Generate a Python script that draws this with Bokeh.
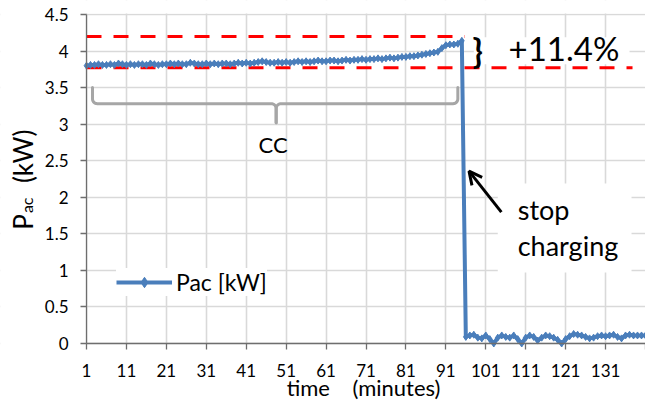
import numpy as np
from bokeh.plotting import figure
from bokeh.models import Label, Arrow, OpenHead, FixedTicker, Range1d, BoxAnnotation
from bokeh.embed import file_html
from bokeh.resources import INLINE

# ---------------- data ----------------
minutes = list(range(1, 142))

pac_charging = [
    3.80, 3.81, 3.81, 3.82, 3.81, 3.81, 3.82, 3.81, 3.83, 3.82,
    3.81, 3.82, 3.81, 3.82, 3.82, 3.81, 3.83, 3.82, 3.81, 3.82,
    3.82, 3.83, 3.82, 3.83, 3.82, 3.82, 3.84, 3.83, 3.82, 3.82,
    3.83, 3.82, 3.83, 3.82, 3.83, 3.83, 3.82, 3.83, 3.84, 3.83,
    3.84, 3.83, 3.84, 3.85, 3.86, 3.85, 3.84, 3.84, 3.85, 3.84,
    3.85, 3.84, 3.85, 3.86, 3.85, 3.86, 3.85, 3.86, 3.87, 3.86,
    3.86, 3.87, 3.87, 3.86, 3.87, 3.88, 3.87, 3.88, 3.88, 3.89,
    3.88, 3.89, 3.89, 3.90, 3.89, 3.90, 3.91, 3.90, 3.91, 3.92,
    3.92, 3.93, 3.93, 3.94, 3.95, 3.96, 3.97, 3.98, 3.99, 4.04,
    4.08, 4.09, 4.09, 4.10, 4.14,
]
pac_after = [
    0.09, 0.11, 0.12, 0.08, 0.07, 0.11, 0.06, 0.00, 0.08, 0.11,
    0.09, 0.08, 0.11, 0.06, 0.00, 0.08, 0.11, 0.09, 0.04, 0.08,
    0.11, 0.10, 0.08, 0.05, 0.00, 0.06, 0.10, 0.13, 0.12, 0.11,
    0.09, 0.07, 0.08, 0.10, 0.11, 0.10, 0.11, 0.12, 0.09, 0.07,
    0.11, 0.12, 0.11, 0.11, 0.11, 0.11,
]
pac_kw = pac_charging + pac_after

cc_level = 3.77      # lower red reference line
peak_level = 4.20    # upper red reference line
increase_text = "+11.4%"

x_min, x_max = 1, 141
y_min, y_max = 0, 4.5
x_ticks = list(range(1, 142, 10))
x_tick_labels = [str(t) for t in x_ticks[:-1]] + [""]
y_ticks = [0, 0.5, 1, 1.5, 2, 2.5, 3, 3.5, 4, 4.5]
y_tick_labels = ["0", "0.5", "1", "1.5", "2", "2.5", "3", "3.5", "4", "4.5"]

FONT = "Lato"
BLUE = "#4a7ebb"

# ---------------- layout (pixels) ----------------
W, H = 645, 400
left_px, top_px, bottom_px = 86, 14, 343
ppx = (W - left_px) / (x_max - x_min)          # pixels per minute
ppy = (bottom_px - top_px) / (y_max - y_min)   # pixels per kW

p = figure(width=W, height=H,
           x_range=Range1d(x_min - left_px / ppx, x_max),
           y_range=Range1d(y_min - (H - bottom_px) / ppy, y_max + top_px / ppy),
           output_backend="svg", toolbar_location=None,
           min_border_left=0, min_border_right=0, min_border_top=0, min_border_bottom=0)
p.outline_line_color = None
p.background_fill_color = "white"

for g, t in ((p.xgrid, x_ticks), (p.ygrid, y_ticks)):
    g.ticker = FixedTicker(ticks=t)
    g.grid_line_color = "#d9d9d9"
    g.grid_line_width = 1.6

# white masks so that grid lines stay inside the data area
for kw in (dict(right=x_min - 0.15), dict(top=y_min - 0.01), dict(bottom=y_max + 0.012)):
    p.add_layout(BoxAnnotation(fill_color="white", fill_alpha=1, line_color=None,
                               level="underlay", **kw))

p.xaxis.ticker = FixedTicker(ticks=x_ticks)
p.xaxis.major_label_overrides = dict(zip(x_ticks, x_tick_labels))
p.yaxis.ticker = FixedTicker(ticks=y_ticks)
p.yaxis.major_label_overrides = dict(zip(y_ticks, y_tick_labels))
p.xaxis.fixed_location = y_min
p.yaxis.fixed_location = x_min
p.xaxis.bounds = (x_min, x_max)
p.yaxis.bounds = (y_min, y_max)
for ax in (p.xaxis, p.yaxis):
    ax.axis_line_color = "#6e6e6e"
    ax.axis_line_width = 1.3
    ax.major_tick_line_color = "#6e6e6e"
    ax.major_tick_line_width = 1.3
    ax.major_tick_out = 6
    ax.major_tick_in = 0
    ax.minor_tick_line_color = None
    ax.major_label_text_font = FONT
    ax.major_label_text_font_size = "17px"
    ax.major_label_text_color = "black"
p.xaxis.major_label_standoff = 14
p.yaxis.major_label_standoff = 12

# red dashed reference lines
p.line([1, 137.75], [cc_level, cc_level], line_color="red", line_width=3, line_dash="15 12")
p.line([1, 95.75], [peak_level, peak_level], line_color="red", line_width=3, line_dash="15 12")

# gray brace for CC region
xl, xr, xc = 2.5, 94.0, 48.5
ytop, ymid, ybot = 3.50, 3.28, 3.02
rx, ry = 1.2, 0.066
t = np.linspace(0, np.pi / 2, 8)
left_x = np.concatenate([[xl], xl + rx - rx * np.cos(t), xc - rx + rx * np.sin(t), [xc]])
left_y = np.concatenate([[ytop], ymid + ry - ry * np.sin(t), ymid - ry + ry * np.cos(t), [ybot]])
right_x = np.concatenate([[xr], xr - rx + rx * np.cos(t), xc + rx - rx * np.sin(t), [xc]])
p.multi_line([list(left_x), list(right_x)], [list(left_y), list(left_y)],
             line_color="#a6a6a6", line_width=3, line_join="round", line_cap="round")

# data series
p.line(minutes, pac_kw, line_color=BLUE, line_width=4, legend_label="Pac [kW]")
p.scatter(minutes, pac_kw, marker="diamond", size=7, fill_color=BLUE, line_color=BLUE,
          legend_label="Pac [kW]")

# legend
lg = p.legend[0]
lg.location = (116, 104)
lg.glyph_width = 56
lg.glyph_height = 26
lg.label_height = 26
lg.label_standoff = 4
lg.padding = 10
lg.margin = 0
lg.spacing = 0
lg.border_line_color = None
lg.background_fill_color = "white"
lg.background_fill_alpha = 1
lg.label_text_font = FONT
lg.label_text_font_size = "23px"
lg.label_text_color = "black"

# white boxes behind annotations
p.add_layout(BoxAnnotation(left=104, right=137.5, bottom=0.97, top=2.19,
                           fill_color="white", fill_alpha=1, line_color=None, level="underlay"))
p.add_layout(BoxAnnotation(left=98, right=137, bottom=3.82, top=4.19,
                           fill_color="white", fill_alpha=1, line_color=None, level="underlay"))

# annotations
def lab(x, y, text, size, align="left", baseline="alphabetic", angle=0, style="normal"):
    p.add_layout(Label(x=x, y=y, text=text, text_font=FONT,
                       text_font_size=f"{size}px", text_align=align, text_baseline=baseline,
                       angle=angle, text_color="black", text_font_style=style))

lab(99, 4.015, "}", 34, align="center", baseline="middle", style="bold")
lab(106.7, 4.04, increase_text, 33)
lab(47.75, 2.726, "CC", 22, align="center")
lab(109, 1.833, "stop", 27)
lab(109, 1.346, "charging", 27)
lab(70.4, -0.60, "time\u00a0\u00a0\u00a0\u00a0(minutes)", 22, align="center")
# y-axis title
lab(-15.0, 1.662, "P", 26, align="center", baseline="middle", angle=np.pi / 2)
lab(-14.0, 1.89, "ac", 16, align="center", baseline="middle", angle=np.pi / 2)
lab(-14.8, 2.56, "(kW)", 26, align="center", baseline="middle", angle=np.pi / 2)

p.add_layout(Arrow(end=OpenHead(size=13, line_width=3, line_color="black"),
                   x_start=104.9, y_start=1.796, x_end=96.8, y_end=2.357,
                   line_width=3, line_color="black"))

open("out.html", "w").write(file_html(p, INLINE))
